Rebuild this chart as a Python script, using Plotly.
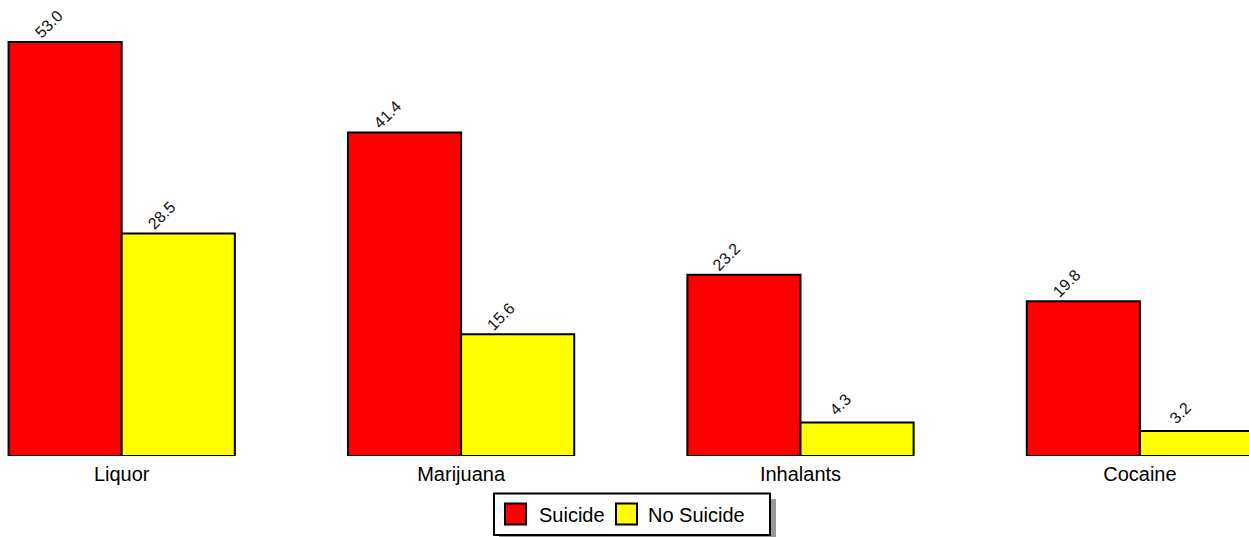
import plotly.graph_objects as go

categories = ["Liquor", "Marijuana", "Inhalants", "Cocaine"]
suicide = [53.0, 41.4, 23.2, 19.8]
no_suicide = [28.5, 15.6, 4.3, 3.2]
series_names = ["Suicide", "No Suicide"]
series_colors = ["#FF0000", "#FFFF00"]

W, H = 1249, 537
BASE = 456         # baseline in screen pixels
MB = H - BASE
PH = BASE

def px_x(p):
    return p / W

def px_y(p):
    return (PH - p) / PH

FONT = "Arial, 'Liberation Sans', sans-serif"

fig = go.Figure()
for name, vals, col in zip(series_names, [suicide, no_suicide], series_colors):
    fig.add_trace(go.Bar(
        x=categories, y=vals, name=name,
        marker=dict(color=col, line=dict(color="#000000", width=2)),
        showlegend=False, hoverinfo="x+y+name",
    ))

# value labels
annotations = []
half_bar = 56.6
for vals, sh in [(suicide, -half_bar - 17), (no_suicide, half_bar - 17)]:
    for c, v in zip(categories, vals):
        annotations.append(dict(
            x=c, y=v, xref="x", yref="y", text=f"{v:.1f}", showarrow=False,
            textangle=-45, xanchor="center", yanchor="middle",
            xshift=sh, yshift=18,
            font=dict(family=FONT, size=16, color="#111111"),
        ))

# custom legend
shapes = [
    dict(type="rect", xref="paper", yref="paper",
         x0=px_x(499), x1=px_x(776), y0=px_y(499), y1=px_y(541),
         fillcolor="#999999", line=dict(width=0), layer="above"),
    dict(type="rect", xref="paper", yref="paper",
         x0=px_x(494), x1=px_x(770), y0=px_y(493.5), y1=px_y(535),
         fillcolor="#FFFFFF", line=dict(color="#000000", width=2), layer="above"),
]
legend_sq_x = [505, 616]
legend_txt_x = [537, 646]
for name, col, sx, tx in zip(series_names, series_colors, legend_sq_x, legend_txt_x):
    shapes.append(dict(type="rect", xref="paper", yref="paper",
                       x0=px_x(sx), x1=px_x(sx + 21), y0=px_y(503.5), y1=px_y(524.5),
                       fillcolor=col, line=dict(color="#000000", width=2), layer="above"))
    annotations.append(dict(x=px_x(tx), y=px_y(514.5), xref="paper", yref="paper",
                            text=name, showarrow=False, xanchor="left", yanchor="middle",
                            font=dict(family=FONT, size=20, color="#000000")))

cat_px0 = 121.7
cat_step = 339.4
x_range = [(0 - cat_px0) / cat_step, (W - cat_px0) / cat_step]
px_per_unit = 414 / 53.0
y_max = PH / px_per_unit

fig.update_layout(
    width=W, height=H,
    margin=dict(l=0, r=0, t=0, b=MB, pad=0),
    barmode="group", bargap=1/3, bargroupgap=0,
    plot_bgcolor="#FFFFFF", paper_bgcolor="#FFFFFF",
    font=dict(family=FONT, size=20, color="#000000"),
    xaxis=dict(range=x_range, showgrid=False, zeroline=False, showline=False,
               ticks="", ticklabelstandoff=4,
               tickfont=dict(family=FONT, size=20, color="#000000")),
    yaxis=dict(range=[0, y_max], visible=False, showgrid=False, zeroline=False),
    annotations=annotations, shapes=shapes,
    showlegend=False,
)

fig.write_html(
    "out.html",
    config={"displayModeBar": False},
    post_script=(
        "document.documentElement.style.overflow='hidden';"
        "document.body.style.overflow='hidden';"
        "document.body.style.margin='0';"
    ),
)
